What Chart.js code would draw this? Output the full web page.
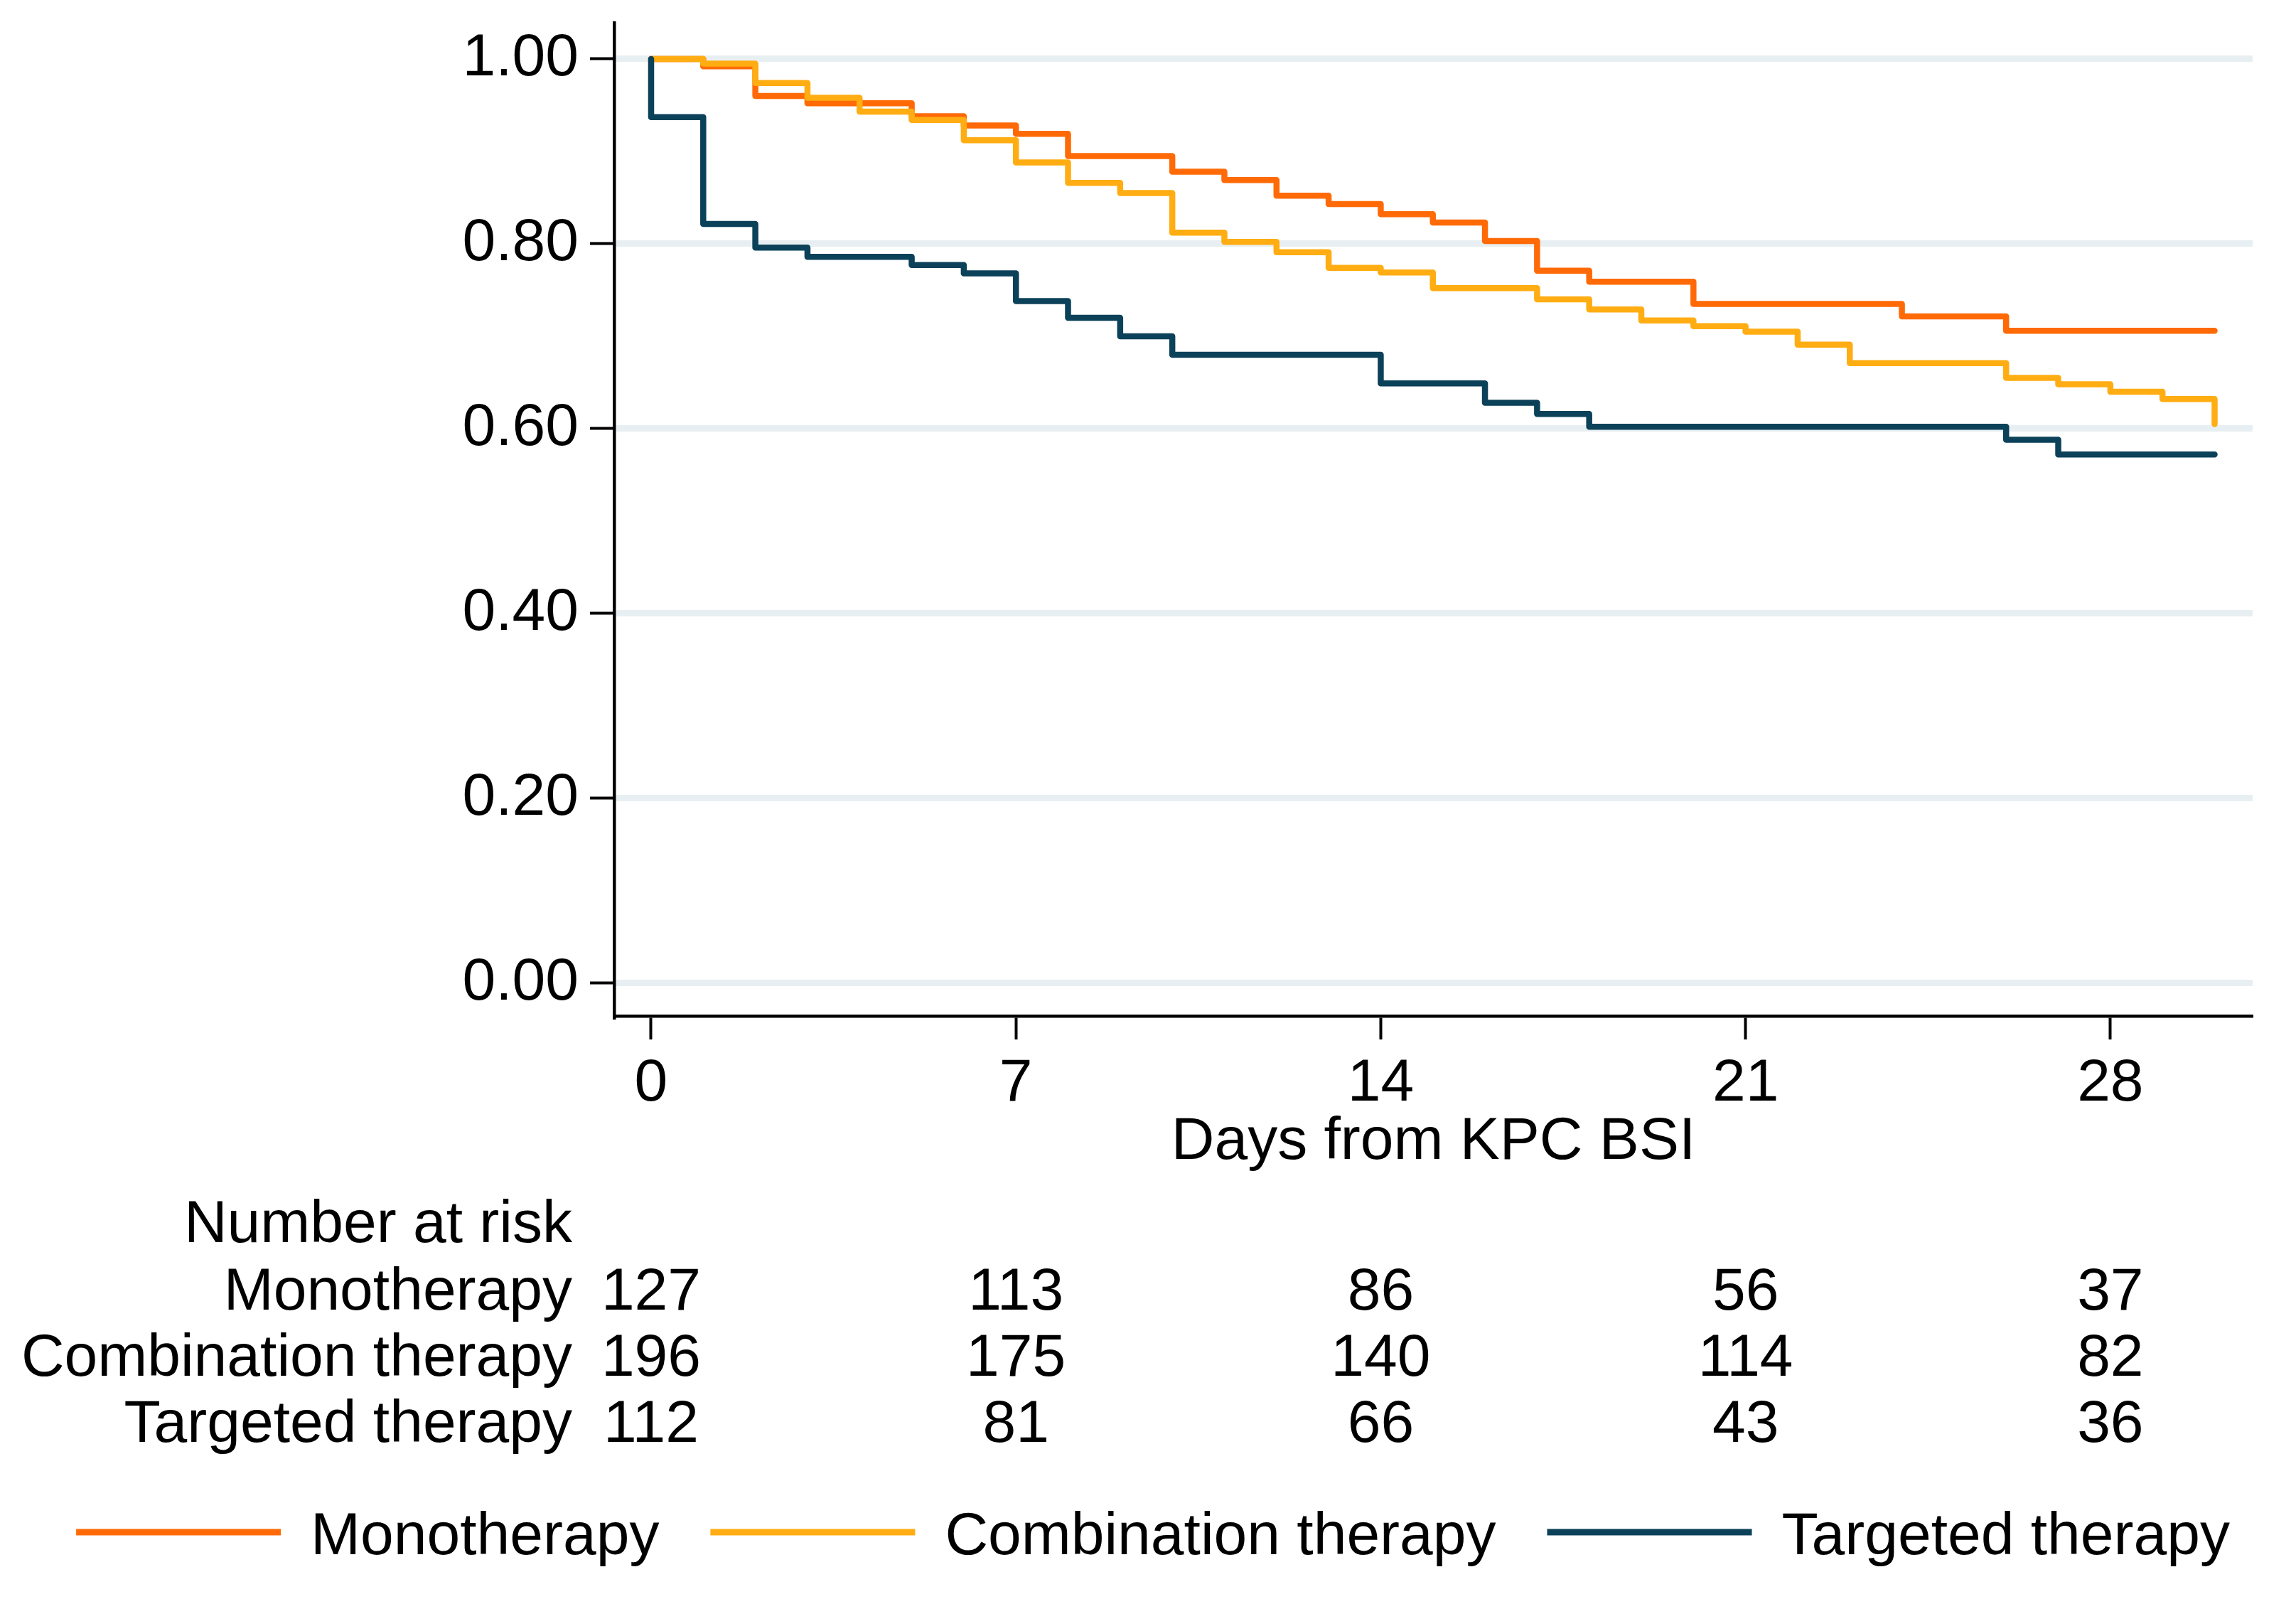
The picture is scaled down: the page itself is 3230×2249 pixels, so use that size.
<!DOCTYPE html>
<html><head><meta charset="utf-8">
<script src="https://cdn.jsdelivr.net/npm/chart.js@4/dist/chart.umd.min.js"></script>
<style>html,body{margin:0;padding:0;background:#fff;} #wrap{width:3230px;height:2249px;position:relative;}</style>
</head><body><div id="wrap"><canvas id="c"></canvas></div>
<script>
// ---- data ----
const seriesNames = ['Monotherapy', 'Combination therapy', 'Targeted therapy'];
const seriesColors = ['#FF6A07', '#FFAD12', '#0B4159'];

const monoDays = [0, 1, 2, 3, 5, 6, 7, 8, 10, 11, 12, 13, 14, 15, 16, 17, 18, 20, 24, 26, 30];
const monoSurv = [1.0, 0.992, 0.960, 0.952, 0.938, 0.928, 0.919, 0.895, 0.878, 0.869, 0.852, 0.843, 0.832, 0.823, 0.803, 0.771, 0.759, 0.735, 0.7215, 0.706, 0.706];

const combDays = [0, 1, 2, 3, 4, 5, 6, 7, 8, 9, 10, 11, 12, 13, 14, 15, 17, 18, 19, 20, 21, 22, 23, 26, 27, 28, 29, 30];
const combSurv = [1.0, 0.995, 0.974, 0.958, 0.943, 0.934, 0.912, 0.888, 0.866, 0.855, 0.812, 0.802, 0.791, 0.774, 0.769, 0.752, 0.740, 0.729, 0.717, 0.711, 0.705, 0.691, 0.671, 0.655, 0.648, 0.640, 0.632, 0.605];

const targDays = [0, 0, 1, 2, 3, 5, 6, 7, 8, 9, 10, 14, 16, 17, 18, 26, 27, 30];
const targSurv = [1.0, 0.937, 0.8215, 0.796, 0.786, 0.777, 0.768, 0.738, 0.720, 0.700, 0.680, 0.649, 0.628, 0.616, 0.602, 0.588, 0.572, 0.572];

const xTicks = [0, 7, 14, 21, 28];
const yTicks = [0, 0.2, 0.4, 0.6, 0.8, 1.0];
const xTitle = 'Days from KPC BSI';

const riskTitle = 'Number at risk';
const riskDays = [0, 7, 14, 21, 28];
const riskMono = [127, 113, 86, 56, 37];
const riskComb = [196, 175, 140, 114, 82];
const riskTarg = [112, 81, 66, 43, 36];

// ---- chart ----
const FONT = '"Liberation Sans", Arial, Helvetica, sans-serif';
Chart.defaults.font.family = FONT;
Chart.defaults.font.size = 84;
Chart.defaults.color = '#000';

const toPts = (d, s) => d.map((x, i) => ({x: x, y: s[i]}));
const allDays = [monoDays, combDays, targDays];
const allSurv = [monoSurv, combSurv, targSurv];
const riskRows = [riskMono, riskComb, riskTarg];

const riskTableAndLegend = {
  id: 'riskTableAndLegend',
  afterDraw(chart) {
    const ctx = chart.ctx, xs = chart.scales.x, ca = chart.chartArea;
    ctx.save();
    ctx.font = '84px ' + FONT;
    ctx.fillStyle = '#000';
    ctx.textBaseline = 'alphabetic';
    // number-at-risk table
    const labelRight = ca.left - 59;
    ctx.textAlign = 'right';
    ctx.fillText(riskTitle, labelRight, ca.bottom + 318);
    const offs = [413, 506, 599];
    riskRows.forEach((r, i) => {
      ctx.textAlign = 'right';
      ctx.fillText(seriesNames[i], labelRight, ca.bottom + offs[i]);
      ctx.textAlign = 'center';
      r.forEach((n, j) => ctx.fillText(String(n), xs.getPixelForValue(riskDays[j]), ca.bottom + offs[i]));
    });
    // legend
    const swW = 288, swH = 9, gapText = 42, gapItem = 72;
    const widths = seriesNames.map(t => ctx.measureText(t).width);
    const total = widths.reduce((a, w) => a + swW + gapText + w, 0) + gapItem * (seriesNames.length - 1);
    let x = chart.width / 2 - total / 2 + 7;
    const base = ca.bottom + 757, mid = base - 31;
    ctx.textAlign = 'left';
    seriesNames.forEach((t, i) => {
      ctx.fillStyle = seriesColors[i];
      ctx.fillRect(x, mid - swH / 2, swW, swH);
      ctx.fillStyle = '#000';
      ctx.fillText(t, x + swW + gapText, base);
      x += swW + gapText + widths[i] + gapItem;
    });
    ctx.restore();
  }
};

new Chart(document.getElementById('c'), {
  type: 'line',
  data: {
    datasets: seriesNames.map((name, i) => ({
      label: name,
      data: toPts(allDays[i], allSurv[i]),
      borderColor: seriesColors[i],
      backgroundColor: seriesColors[i],
      borderWidth: 8.5,
      stepped: 'before',
      pointRadius: 0,
      fill: false,
      tension: 0,
      borderCapStyle: 'round',
      borderJoinStyle: 'round',
      order: 3 - i
    }))
  },
  plugins: [riskTableAndLegend],
  options: {
    responsive: true,
    maintainAspectRatio: false,
    devicePixelRatio: 1,
    animation: false,
    layout: {padding: {left: 100, right: 61, top: 32, bottom: 41}},
    scales: {
      x: {
        type: 'linear', min: -0.709, max: 30.73,
        afterBuildTicks: s => { s.ticks = xTicks.map(v => ({value: v})); },
        afterFit: s => { s.height = 779; s.paddingLeft = 0; s.paddingRight = 0; },
        grid: {drawOnChartArea: false, drawTicks: true, tickLength: 33, tickWidth: 4, tickColor: '#000', color: '#000'},
        border: {display: true, color: '#000', width: 4.5},
        ticks: {autoSkip: false, maxRotation: 0, padding: 12.6, color: '#000', font: {size: 84}},
        title: {display: true, text: xTitle, color: '#000', font: {size: 84}, padding: {top: 0, bottom: 551}}
      },
      y: {
        type: 'linear', min: -0.0354, max: 1.0392,
        afterBuildTicks: s => { s.ticks = yTicks.map(v => ({value: v})); },
        afterFit: s => { s.width = 764; s.paddingTop = 0; s.paddingBottom = 0; },
        grid: {drawOnChartArea: true, color: '#E8EFF2', lineWidth: 9, drawTicks: true, tickLength: 34, tickWidth: 4, tickColor: '#000'},
        border: {display: true, color: '#000', width: 4.5},
        ticks: {padding: 16, color: '#000', font: {size: 84}, callback: v => Number(v).toFixed(2)}
      }
    },
    plugins: {
      tooltip: {enabled: false},
      legend: {display: false}
    }
  }
});
</script>
</body></html>
